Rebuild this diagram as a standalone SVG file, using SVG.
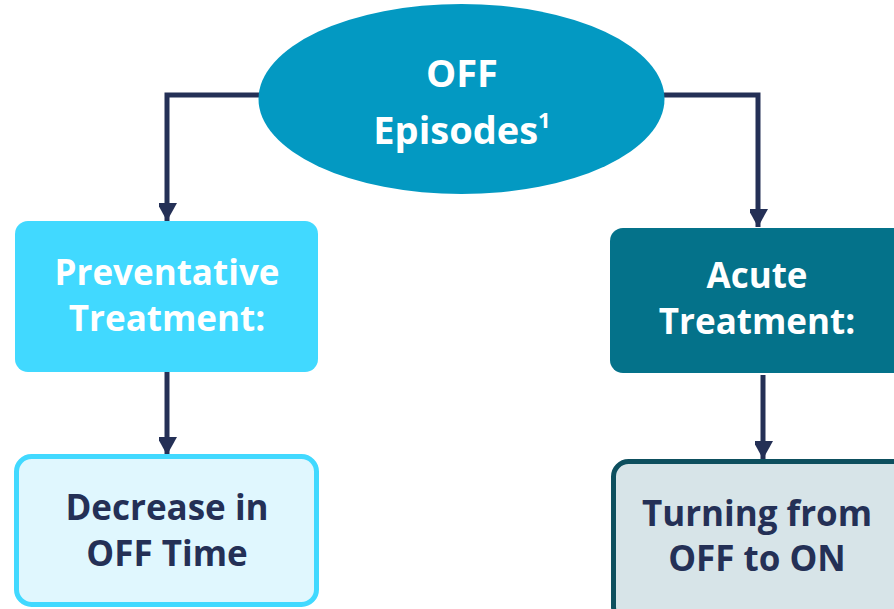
<svg xmlns="http://www.w3.org/2000/svg" width="894" height="609" viewBox="0 0 894 609">
<defs>
<marker id="ah" markerWidth="4" markerHeight="3.6" refX="3.6" refY="2" orient="auto" markerUnits="strokeWidth">
<path d="M0,0 L3.6,2 L0,4 Z" fill="#243056"/>
</marker>
<style>
.t{font-family:"Open Sans","Liberation Sans",sans-serif;font-weight:bold;font-size:35px;text-anchor:middle}
.e{font-size:38px}
.w{fill:#ffffff}
.n{fill:#243056}
.c{fill:none;stroke:#243056;stroke-width:5}
</style>
</defs>
<rect width="894" height="609" fill="#ffffff"/>
<g id="connectors">
<path class="c" d="M260,95 H167 V221" marker-end="url(#ah)"/>
<path class="c" d="M663,95 H758 V227" marker-end="url(#ah)"/>
<path class="c" d="M167,372 V455" marker-end="url(#ah)"/>
<path class="c" d="M763,375 V459" marker-end="url(#ah)"/>
</g>
<g id="off-episodes">
<ellipse cx="461.5" cy="99" rx="203" ry="95" fill="#0399c2"/>
<text class="t e w" x="462" y="87">OFF</text>
<text class="t e w" x="462" y="144">Episodes<tspan font-size="22" dy="-16">1</tspan></text>
</g>
<g id="preventative">
<rect x="15" y="221" width="303" height="151" rx="13" fill="#41d9ff"/>
<text class="t w" x="167" y="285">Preventative</text>
<text class="t w" x="167" y="331">Treatment:</text>
</g>
<g id="acute">
<rect x="610" y="228" width="300" height="145" rx="13" fill="#04728a"/>
<text class="t w" x="757" y="288">Acute</text>
<text class="t w" x="757" y="334">Treatment:</text>
</g>
<g id="decrease">
<rect x="16.5" y="456.5" width="300" height="148" rx="15" fill="#e0f7fe" stroke="#41d9ff" stroke-width="5"/>
<text class="t n" x="167" y="520">Decrease in</text>
<text class="t n" x="167" y="566">OFF Time</text>
</g>
<g id="turning">
<rect x="613.5" y="461.5" width="300" height="160" rx="15" fill="#d7e4e8" stroke="#0d4f5e" stroke-width="5"/>
<text class="t n" x="757" y="526">Turning from</text>
<text class="t n" x="757" y="571">OFF to ON</text>
</g>
</svg>
